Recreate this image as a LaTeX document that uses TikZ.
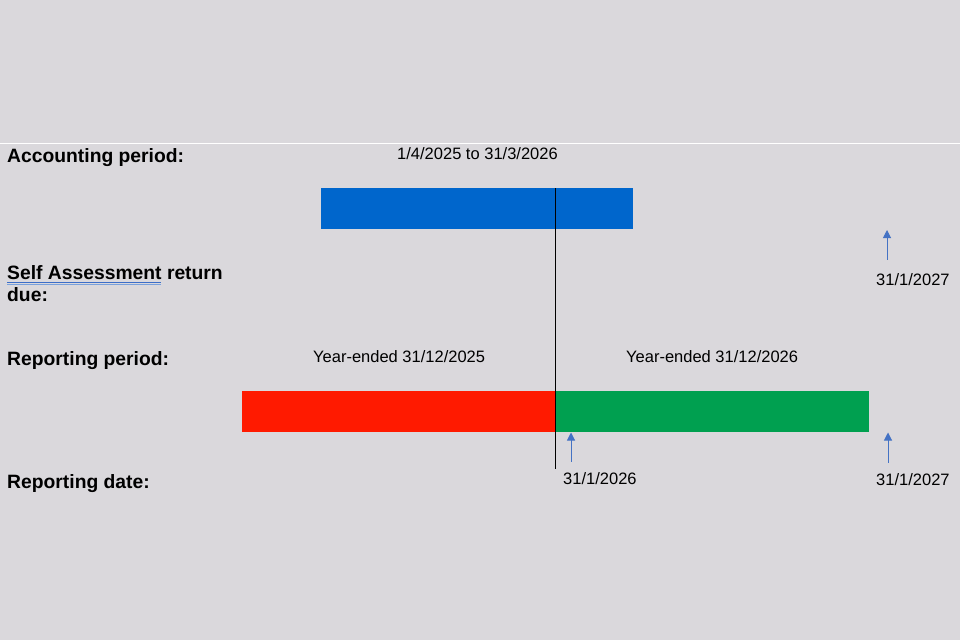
\documentclass[tikz,border=0pt]{standalone}
\usepackage{fontspec}
\setmainfont{Liberation Sans}
\usetikzlibrary{arrows.meta}
\definecolor{bgc}{RGB}{218,216,220}
\definecolor{barblue}{RGB}{0,102,204}
\definecolor{barred}{RGB}{255,26,0}
\definecolor{bargreen}{RGB}{0,160,80}
\definecolor{arrblue}{RGB}{68,114,196}
\definecolor{ulblue}{RGB}{60,110,200}
\definecolor{ulblue2}{RGB}{120,160,220}
\tikzset{
  lbl/.style={anchor=base west, inner sep=0pt, font=\fontsize{19.3}{22.5}\selectfont\bfseries, text=black},
  txt/.style={anchor=base west, inner sep=0pt, font=\fontsize{16.5}{20}\selectfont, text=black},
  barbox/.style={draw=none, inner sep=0pt, minimum height=41pt, anchor=north west},
  uparrow/.style={draw=arrblue, line width=1pt, -{Triangle[length=8pt,width=8pt]}},
}
\begin{document}
\begin{tikzpicture}[x=1pt,y=-1pt]
\fill[bgc] (0,0) rectangle (960,640);
\useasboundingbox (0,0) rectangle (960,640);
\draw[white, line width=1pt] (0,143) -- (960,143);

% bars
\node[barbox, fill=barblue, minimum width=312pt] (acc) at (321,188) {};
\node[barbox, fill=barred, minimum width=313pt] (ye25) at (242,391) {};
\node[barbox, fill=bargreen, minimum width=314pt] (ye26) at (555,391) {};

% vertical divider
\coordinate (vtop) at (555,188);
\coordinate (vbot) at (555,469);
\draw[black, line width=0.9pt] (vtop) -- (vbot);

% left labels
\node[lbl] (l1) at (7,162) {Accounting period:};
\node[lbl] (l2a) at (7,279.5) {Self Assessment return};
\node[lbl] (l2b) at (7,301.7) {due:};
\node[lbl] (l3) at (7,365) {Reporting period:};
\node[lbl] (l4) at (7,488) {Reporting date:};
\coordinate (ulA) at (7,282);
\coordinate (ulB) at (161,282);
\coordinate (ulC) at (7,284);
\coordinate (ulD) at (161,284);
\draw[ulblue, line width=1pt] (ulA) -- (ulB);
\draw[ulblue2, line width=0.9pt] (ulC) -- (ulD);

% texts
\node[txt] (t1) at (397,159.5) {1/4/2025 to 31/3/2026};
\node[txt] (t2) at (313,362) {Year-ended 31/12/2025};
\node[txt] (t3) at (626,362) {Year-ended 31/12/2026};
\node[txt] (d1) at (563,484.5) {31/1/2026};
\node[txt] (d2) at (876,285.5) {31/1/2027};
\node[txt] (d3) at (876,485) {31/1/2027};

% arrows
\coordinate (a1s) at (571,461.5);
\coordinate (a1e) at (571,432.5);
\coordinate (a2s) at (887,259.5);
\coordinate (a2e) at (887,230);
\coordinate (a3s) at (888,462.5);
\coordinate (a3e) at (888,432.5);
\draw[uparrow] (a1s) -- (a1e);
\draw[uparrow] (a2s) -- (a2e);
\draw[uparrow] (a3s) -- (a3e);
\end{tikzpicture}
\end{document}
